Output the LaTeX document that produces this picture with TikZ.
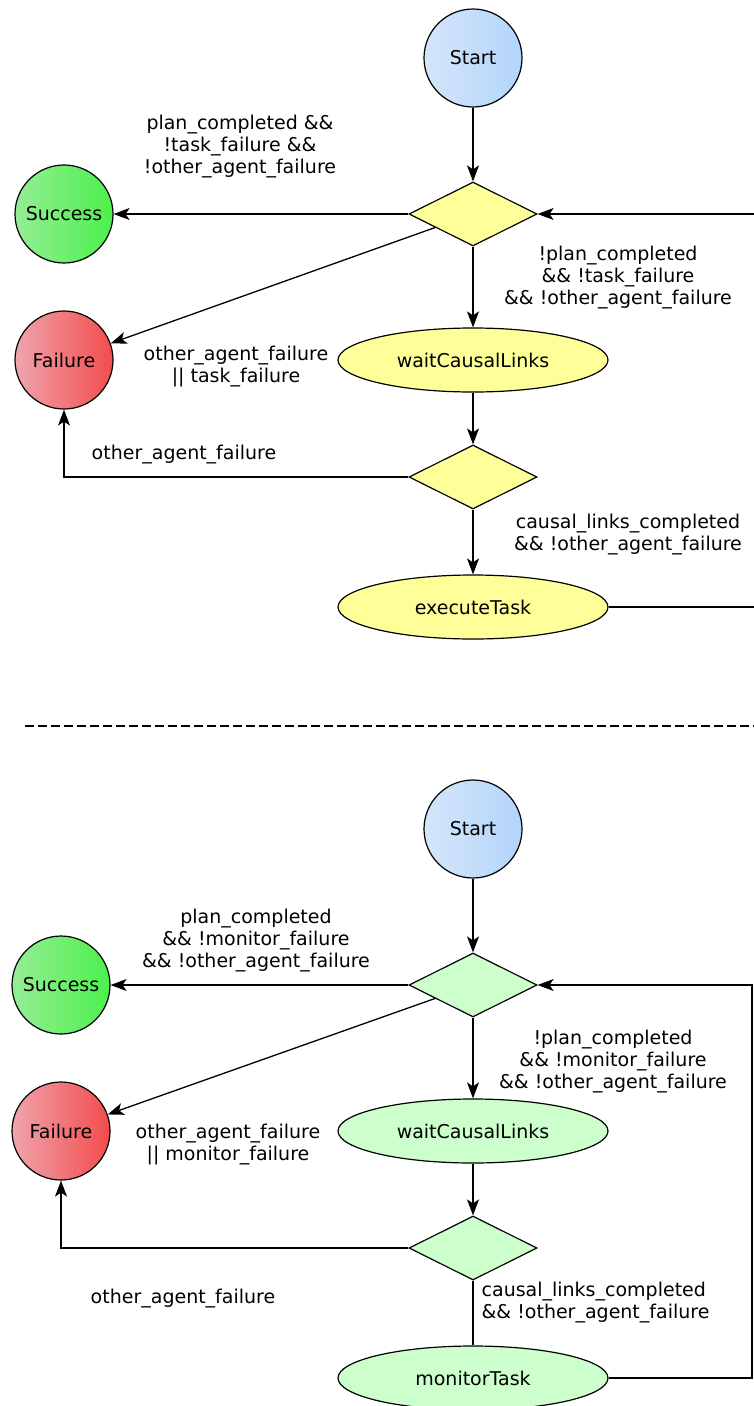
\documentclass[tikz,border=0pt]{standalone}
\usepackage{fontspec}
\setmainfont{DejaVu Sans}
\usetikzlibrary{arrows.meta,positioning,shapes.geometric}
\definecolor{inicioA}{HTML}{D4E6F8}
\definecolor{inicioB}{HTML}{B2D5FC}
\definecolor{exitoA}{HTML}{95EE95}
\definecolor{exitoB}{HTML}{4CF04C}
\definecolor{falloA}{HTML}{F0A4AC}
\definecolor{falloB}{HTML}{F24C4C}
\definecolor{amarillo}{HTML}{FFFF99}
\definecolor{verde}{HTML}{CCFFCC}
\tikzstyle{estado}=[circle,draw=black,line width=1.2pt,minimum size=98pt,inner sep=0pt]
\tikzstyle{inicio}=[estado,left color=inicioA,right color=inicioB]
\tikzstyle{exito}=[estado,left color=exitoA,right color=exitoB]
\tikzstyle{fallo}=[estado,left color=falloA,right color=falloB]
\tikzstyle{decision}=[diamond,draw=black,line width=1.2pt,minimum width=128pt,minimum height=64pt,inner sep=0pt]
\tikzstyle{accion}=[ellipse,draw=black,line width=1.2pt,minimum width=270pt,minimum height=64pt,inner sep=0pt]
\tikzstyle{etiqueta}=[align=center,inner sep=0pt]

\begin{document}
\begin{tikzpicture}[x=1pt,y=-1pt,font=\fontsize{19}{22}\selectfont]
	\useasboundingbox (0,0) rectangle (753,1406);
	\begin{scope}[>={Stealth[length=16pt,width=12pt,inset=4pt]}, line width=1.3pt]
		% ejecucion
		\node[inicio]	(inicio1)	at (473,58)	{Start};
		\node[decision,fill=amarillo]	(dec1)	[below=73.8pt of inicio1]	{};
		\node[accion,fill=amarillo]	(espera1)	[below=80.8pt of dec1]	{waitCausalLinks};
		\node[decision,fill=amarillo]	(dec2)	[below=51.8pt of espera1]	{};
		\node[accion,fill=amarillo]	(ejecuta)	[below=64.8pt of dec2]	{executeTask};
		\node[exito]	(exito1)	[left=294.8pt of dec1]	{Success};
		\node[fallo]	(fallo1)	[below=46.8pt of exito1]	{Failure};
		\coordinate	(borde1)	at (760,0);
		\node[etiqueta]	(cond1)	at (240,147)	{plan\_completed \&\&\\ !task\_failure \&\&\\ !other\_agent\_failure};
		\node[etiqueta]	(cond2)	at (618,278)	{!plan\_completed\\ \&\& !task\_failure\\ \&\& !other\_agent\_failure};
		\node[etiqueta]	(cond3)	at (236,367)	{other\_agent\_failure\\ || task\_failure};
		\node[etiqueta]	(cond4)	at (184,455)	{other\_agent\_failure};
		\node[etiqueta]	(cond5)	at (628,535)	{causal\_links\_completed\\ \&\& !other\_agent\_failure};
		\draw[->]	(inicio1) -- (dec1);
		\draw[->]	(dec1) -- (exito1);
		\draw[->]	(dec1) -- (fallo1);
		\draw[->]	(dec1) -- (espera1);
		\draw[->]	(espera1) -- (dec2);
		\draw[->]	(dec2) -| (fallo1);
		\draw[->]	(dec2) -- (ejecuta);
		\draw		(ejecuta) -- (ejecuta -| borde1);
		\draw[->]	(dec1 -| borde1) -- (dec1);

		% separador
		\coordinate	(sep1)	at (25,726);
		\coordinate	(sep2)	at (760,726);
		\draw[dash pattern=on 9pt off 4pt]	(sep1) -- (sep2);

		% monitorizacion
		\node[inicio]	(inicio2)	at (473,829)	{Start};
		\node[decision,fill=verde]	(dec3)	[below=73.8pt of inicio2]	{};
		\node[accion,fill=verde]	(espera2)	[below=80.8pt of dec3]	{waitCausalLinks};
		\node[decision,fill=verde]	(dec4)	[below=51.8pt of espera2]	{};
		\node[accion,fill=verde]	(monitor)	[below=64.8pt of dec4]	{monitorTask};
		\node[exito]	(exito2)	[left=297.8pt of dec3]	{Success};
		\node[fallo]	(fallo2)	[below=46.8pt of exito2]	{Failure};
		\coordinate	(borde2)	at (752,0);
		\node[etiqueta]	(cond6)	at (256,941)	{plan\_completed\\ \&\& !monitor\_failure\\ \&\& !other\_agent\_failure};
		\node[etiqueta]	(cond7)	at (613,1062)	{!plan\_completed\\ \&\& !monitor\_failure\\ \&\& !other\_agent\_failure};
		\node[etiqueta]	(cond8)	at (228,1145)	{other\_agent\_failure\\ || monitor\_failure};
		\node[etiqueta]	(cond9)	at (183,1299)	{other\_agent\_failure};
		\node[etiqueta,align=left,anchor=west]	(cond10)	at (481,1303)	{causal\_links\_completed\\ \&\& !other\_agent\_failure};
		\draw[->]	(inicio2) -- (dec3);
		\draw[->]	(dec3) -- (exito2);
		\draw[->]	(dec3) -- (fallo2);
		\draw[->]	(dec3) -- (espera2);
		\draw[->]	(espera2) -- (dec4);
		\draw[->]	(dec4) -| (fallo2);
		\draw		(dec4) -- (monitor);
		\draw[->]	(monitor) -- (monitor -| borde2) |- (dec3);
	\end{scope}
\end{tikzpicture}
\end{document}
